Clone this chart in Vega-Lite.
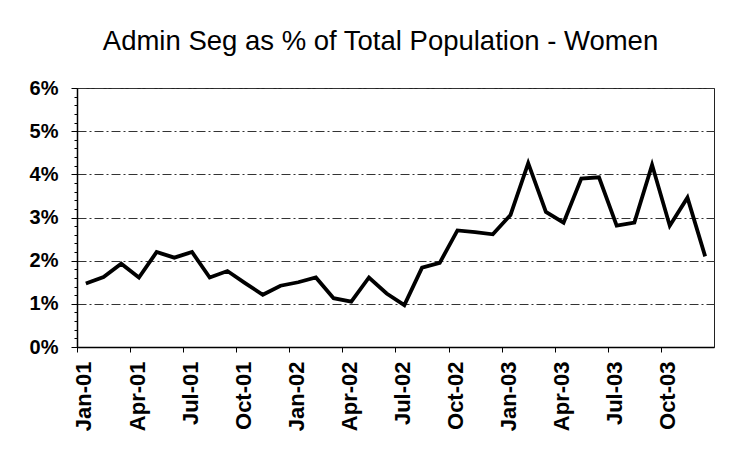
{
  "$schema": "https://vega.github.io/schema/vega-lite/v6.json",
  "width": 637,
  "height": 259,
  "autosize": "none",
  "padding": {"left": 77, "top": 88, "right": 30, "bottom": 114},
  "background": "white",
  "title": {
    "text": "Admin Seg as % of Total Population - Women",
    "font": "Liberation Sans",
    "fontSize": 27.5,
    "fontWeight": "normal",
    "color": "black",
    "anchor": "middle",
    "frame": "group",
    "dx": -15,
    "offset": 1,
    "baseline": "alphabetic"
  },
  "data": {
    "values": [
      {"month": "Jan-01", "value": 0.0147},
      {"month": "Feb-01", "value": 0.0162},
      {"month": "Mar-01", "value": 0.0193},
      {"month": "Apr-01", "value": 0.0161},
      {"month": "May-01", "value": 0.0220},
      {"month": "Jun-01", "value": 0.0207},
      {"month": "Jul-01", "value": 0.0220},
      {"month": "Aug-01", "value": 0.0161},
      {"month": "Sep-01", "value": 0.0176},
      {"month": "Oct-01", "value": 0.0148},
      {"month": "Nov-01", "value": 0.0121},
      {"month": "Dec-01", "value": 0.0142},
      {"month": "Jan-02", "value": 0.0150},
      {"month": "Feb-02", "value": 0.0161},
      {"month": "Mar-02", "value": 0.0113},
      {"month": "Apr-02", "value": 0.0105},
      {"month": "May-02", "value": 0.0161},
      {"month": "Jun-02", "value": 0.0124},
      {"month": "Jul-02", "value": 0.0097},
      {"month": "Aug-02", "value": 0.0184},
      {"month": "Sep-02", "value": 0.0195},
      {"month": "Oct-02", "value": 0.0270},
      {"month": "Nov-02", "value": 0.0266},
      {"month": "Dec-02", "value": 0.0261},
      {"month": "Jan-03", "value": 0.0306},
      {"month": "Feb-03", "value": 0.0426},
      {"month": "Mar-03", "value": 0.0313},
      {"month": "Apr-03", "value": 0.0288},
      {"month": "May-03", "value": 0.0390},
      {"month": "Jun-03", "value": 0.0393},
      {"month": "Jul-03", "value": 0.0281},
      {"month": "Aug-03", "value": 0.0288},
      {"month": "Sep-03", "value": 0.0422},
      {"month": "Oct-03", "value": 0.0281},
      {"month": "Nov-03", "value": 0.0346},
      {"month": "Dec-03", "value": 0.0210}
    ]
  },
  "mark": {"type": "line", "color": "black", "strokeWidth": 3.8, "strokeJoin": "miter"},
  "encoding": {
    "x": {
      "field": "month",
      "type": "ordinal",
      "sort": null,
      "scale": {"type": "point", "padding": 0.5},
      "axis": {
        "title": null,
        "values": ["Jan-01", "Apr-01", "Jul-01", "Oct-01", "Jan-02", "Apr-02", "Jul-02", "Oct-02", "Jan-03", "Apr-03", "Jul-03", "Oct-03"],
        "labelAngle": 270,
        "labelAlign": "right",
        "labelBaseline": "middle",
        "labelFont": "Liberation Sans",
        "labelFontSize": 22,
        "labelFontWeight": "bold",
        "labelColor": "black",
        "labelPadding": 9,
        "tickOffset": -8.85,
        "labelOffset": 7,
        "tickSize": 5,
        "tickColor": "black",
        "domainColor": "black",
        "domainWidth": 1.5,
        "grid": false
      }
    },
    "y": {
      "field": "value",
      "type": "quantitative",
      "scale": {"domain": [0, 0.06], "nice": false},
      "axis": {
        "title": null,
        "values": [0, 0.002, 0.004, 0.006, 0.008, 0.01, 0.012, 0.014, 0.016, 0.018, 0.02, 0.022, 0.024, 0.026, 0.028, 0.03, 0.032, 0.034, 0.036, 0.038, 0.04, 0.042, 0.044, 0.046, 0.048, 0.05, 0.052, 0.054, 0.056, 0.058, 0.06],
        "labelExpr": "round(datum.value*500) % 5 == 0 ? format(datum.value, '.0%') : ''",
        "labelFont": "Liberation Sans",
        "labelFontSize": 20,
        "labelFontWeight": "bold",
        "labelColor": "black",
        "labelPadding": 13,
        "tickSize": {"condition": {"test": "round(datum.value*500) % 5 == 0", "value": 6}, "value": 3},
        "tickColor": "black",
        "domainColor": "black",
        "domainWidth": 1.5,
        "grid": true,
        "gridColor": "#333333",
        "gridWidth": 1,
        "gridDash": [9, 3, 2, 3],
        "gridOpacity": {"condition": {"test": "round(datum.value*500) % 5 == 0 && datum.value > 0", "value": 1}, "value": 0}
      }
    }
  },
  "config": {"view": {"stroke": "#222222", "strokeWidth": 1}}
}
